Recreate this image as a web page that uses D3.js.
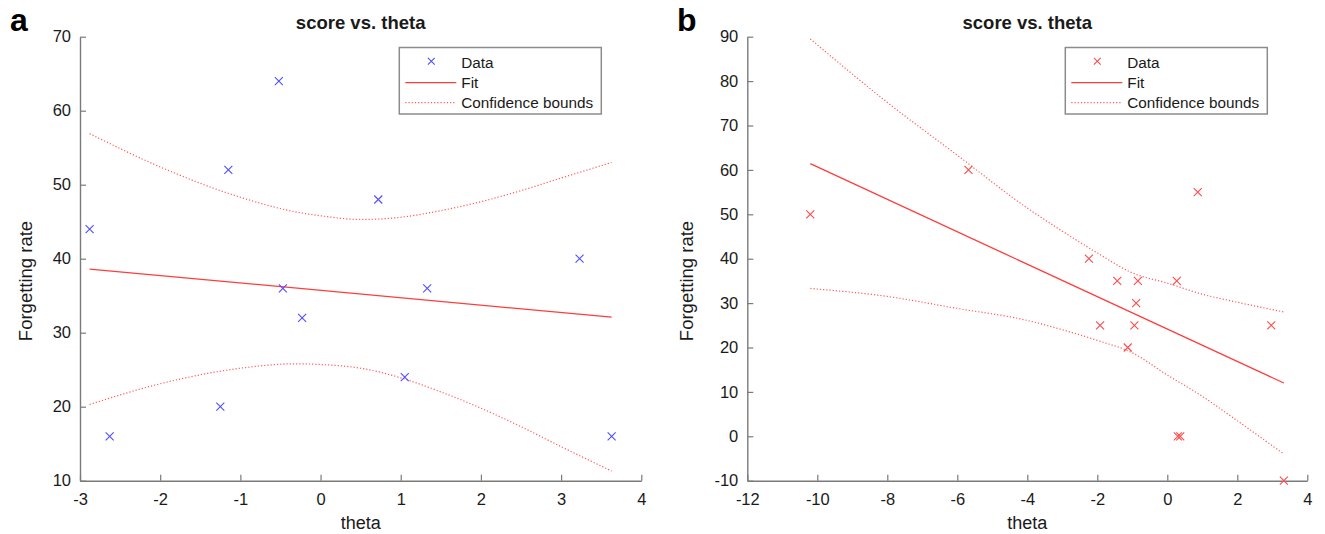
<!DOCTYPE html>
<html><head><meta charset="utf-8">
<script src="https://cdn.jsdelivr.net/npm/d3@7"></script>
<style>
html,body{margin:0;padding:0;background:#fff;}
text{font-family:"Liberation Sans",Arial,Helvetica,sans-serif;}
</style></head>
<body><svg id="chart" width="1325" height="534"></svg>
<script>
// ---------- data ----------
const panelLetters = ["a", "b"];
const titleText = "score vs. theta";
const xLabelText = "theta";
const yLabelText = "Forgetting rate";
const legendLabels = ["Data", "Fit", "Confidence bounds"];

// panel a
const thetaA = [-2.88, -2.63, -1.25, -1.15, -0.52, -0.47, -0.23, 0.72, 1.05, 1.33, 3.23, 3.63];
const scoreA = [44, 16, 20, 52, 64, 36, 32, 48, 24, 36, 40, 16];
const fitThetaA = [-2.88, 3.63];
const fitScoreA = [38.6, 32.1];
const boundThetaA = [-2.88, -2, -1, -0.3, 0, 0.5, 1, 1.5, 2, 2.5, 3, 3.63];
const upperA = [56.9, 52.4, 48.3, 46.3, 45.8, 45.3, 45.6, 46.5, 47.7, 49.2, 50.9, 53.0];
const lowerA = [20.3, 23.1, 25.2, 25.8, 25.7, 25.2, 23.9, 22.0, 19.8, 17.3, 14.6, 11.3];
const xTicksA = [-3, -2, -1, 0, 1, 2, 3, 4];
const yTicksA = [10, 20, 30, 40, 50, 60, 70];

// panel b
const thetaB = [-10.2, -5.68, -2.24, -1.92, -1.43, -1.13, -0.94, -0.89, -0.84, 0.27, 0.30, 0.37, 0.87, 2.97, 3.33];
const scoreB = [50, 60, 40, 25, 35, 20, 25, 30, 35, 35, 0, 0, 55, 25, -10];
const fitThetaB = [-10.2, 3.33];
const fitScoreB = [61.4, 12.0];
const boundThetaB = [-10.2, -8, -6, -4, -3, -2, -1, 0, 1, 2, 3.33];
const upperB = [89.5, 75.2, 63.3, 51.4, 46.2, 41.3, 36.8, 34.5, 32.0, 30.2, 28.0];
const lowerB = [33.3, 31.5, 28.8, 26.1, 24.0, 21.6, 18.8, 13.8, 9.0, 3.5, -4.0];
const xTicksB = [-12, -10, -8, -6, -4, -2, 0, 2, 4];
const yTicksB = [-10, 0, 10, 20, 30, 40, 50, 60, 70, 80, 90];

// ---------- drawing ----------
const svg = d3.select("#chart");
const AXIS = "#7a7a7a", TXT = "#1a1a1a";
const fmt = d => String(d);

function xMark(cx, cy, s) {
  return `M${cx - s},${cy - s}L${cx + s},${cy + s}M${cx - s},${cy + s}L${cx + s},${cy - s}`;
}

function drawPanel(p) {
  const g = svg.append("g");
  const x = d3.scaleLinear().domain([p.xTicks[0], p.xTicks[p.xTicks.length - 1]]).range([p.left, p.right]);
  const y = d3.scaleLinear().domain([p.yTicks[0], p.yTicks[p.yTicks.length - 1]]).range([p.bottom, p.top]);

  // axes
  const xa = g.append("g").attr("transform", `translate(0,${p.bottom})`)
    .call(d3.axisBottom(x).tickValues(p.xTicks).tickFormat(fmt)
      .tickSizeInner(-6).tickSizeOuter(0).tickPadding(13));
  const ya = g.append("g").attr("transform", `translate(${p.left},0)`)
    .call(d3.axisLeft(y).tickValues(p.yTicks).tickFormat(fmt)
      .tickSizeInner(-6).tickSizeOuter(0).tickPadding(9));
  [xa, ya].forEach(a => {
    a.select(".domain").attr("stroke", AXIS).attr("stroke-width", 1.4);
    a.selectAll(".tick line").attr("stroke", AXIS).attr("stroke-width", 1.2);
    a.selectAll(".tick text").attr("fill", TXT).style("font-size", "16.5px")
      .style("font-family", "'Liberation Sans',Arial,sans-serif");
  });

  // confidence bounds
  const bline = d3.line().x(d => x(d[0])).y(d => y(d[1])).curve(d3.curveMonotoneX);
  [p.upper, p.lower].forEach(arr => {
    g.append("path").datum(p.boundTheta.map((t, i) => [t, arr[i]]))
      .attr("d", bline).attr("fill", "none").attr("stroke", "#ff5a5a")
      .attr("stroke-width", 1.2).attr("stroke-dasharray", "1.2,2");
  });
  // fit line
  g.append("path").datum(p.fitTheta.map((t, i) => [t, p.fitScore[i]]))
    .attr("d", d3.line().x(d => x(d[0])).y(d => y(d[1])))
    .attr("fill", "none").attr("stroke", "#ff3c3c").attr("stroke-width", 1.3);

  // data markers
  g.append("g").selectAll("path").data(p.theta.map((t, i) => [t, p.score[i]]))
    .join("path")
    .attr("d", d => xMark(x(d[0]), y(d[1]), 4))
    .attr("stroke", p.markerColor).attr("stroke-width", 1.1).attr("fill", "none");

  // title, labels
  const cx = (p.left + p.right) / 2;
  g.append("text").attr("x", cx).attr("y", 29).attr("text-anchor", "middle")
    .attr("font-weight", "bold").style("font-size", "18.5px").attr("fill", TXT).text(titleText);
  g.append("text").attr("x", cx).attr("y", 529).attr("text-anchor", "middle")
    .style("font-size", "18px").attr("fill", TXT).text(xLabelText);
  g.append("text").attr("transform", `translate(${p.ylabX},281) rotate(-90)`)
    .attr("text-anchor", "middle").style("font-size", "18.5px").attr("fill", TXT).text(yLabelText);
  g.append("text").attr("x", p.letterX).attr("y", 31).attr("font-weight", "bold")
    .style("font-size", "32px").attr("fill", "#000").text(p.letter);

  // legend
  const lx = p.right - 40 - 202, ly = 47.5;
  const lg = g.append("g");
  lg.append("rect").attr("x", lx).attr("y", ly).attr("width", 202).attr("height", 66.5)
    .attr("fill", "#fff").attr("stroke", "#8c8c8c").attr("stroke-width", 1.5);
  const rows = [62.7, 82.7, 102.7];
  lg.append("path").attr("d", xMark(lx + 32, rows[0] - 1.5, 3.4))
    .attr("stroke", p.markerColor).attr("stroke-width", 1.1);
  lg.append("line").attr("x1", lx + 6).attr("x2", lx + 57).attr("y1", rows[1]).attr("y2", rows[1])
    .attr("stroke", "#ff3c3c").attr("stroke-width", 1.3);
  lg.append("line").attr("x1", lx + 6).attr("x2", lx + 57).attr("y1", rows[2]).attr("y2", rows[2])
    .attr("stroke", "#ff5a5a").attr("stroke-width", 1.2).attr("stroke-dasharray", "1.2,2");
  legendLabels.forEach((t, i) => {
    lg.append("text").attr("x", lx + 62).attr("y", rows[i]).attr("dy", "0.36em")
      .style("font-size", "15.3px").attr("fill", TXT).text(t);
  });
}

drawPanel({
  letter: panelLetters[0], letterX: 10, left: 80, right: 641.3, top: 36.7, bottom: 480.7, ylabX: 32,
  xTicks: xTicksA, yTicks: yTicksA, theta: thetaA, score: scoreA,
  fitTheta: fitThetaA, fitScore: fitScoreA, boundTheta: boundThetaA, upper: upperA, lower: lowerA,
  markerColor: "#4f4fff"
});
drawPanel({
  letter: panelLetters[1], letterX: 677, left: 747.3, right: 1307.3, top: 36.7, bottom: 480.7, ylabX: 693,
  xTicks: xTicksB, yTicks: yTicksB, theta: thetaB, score: scoreB,
  fitTheta: fitThetaB, fitScore: fitScoreB, boundTheta: boundThetaB, upper: upperB, lower: lowerB,
  markerColor: "#ff4a4a"
});
</script></body></html>
